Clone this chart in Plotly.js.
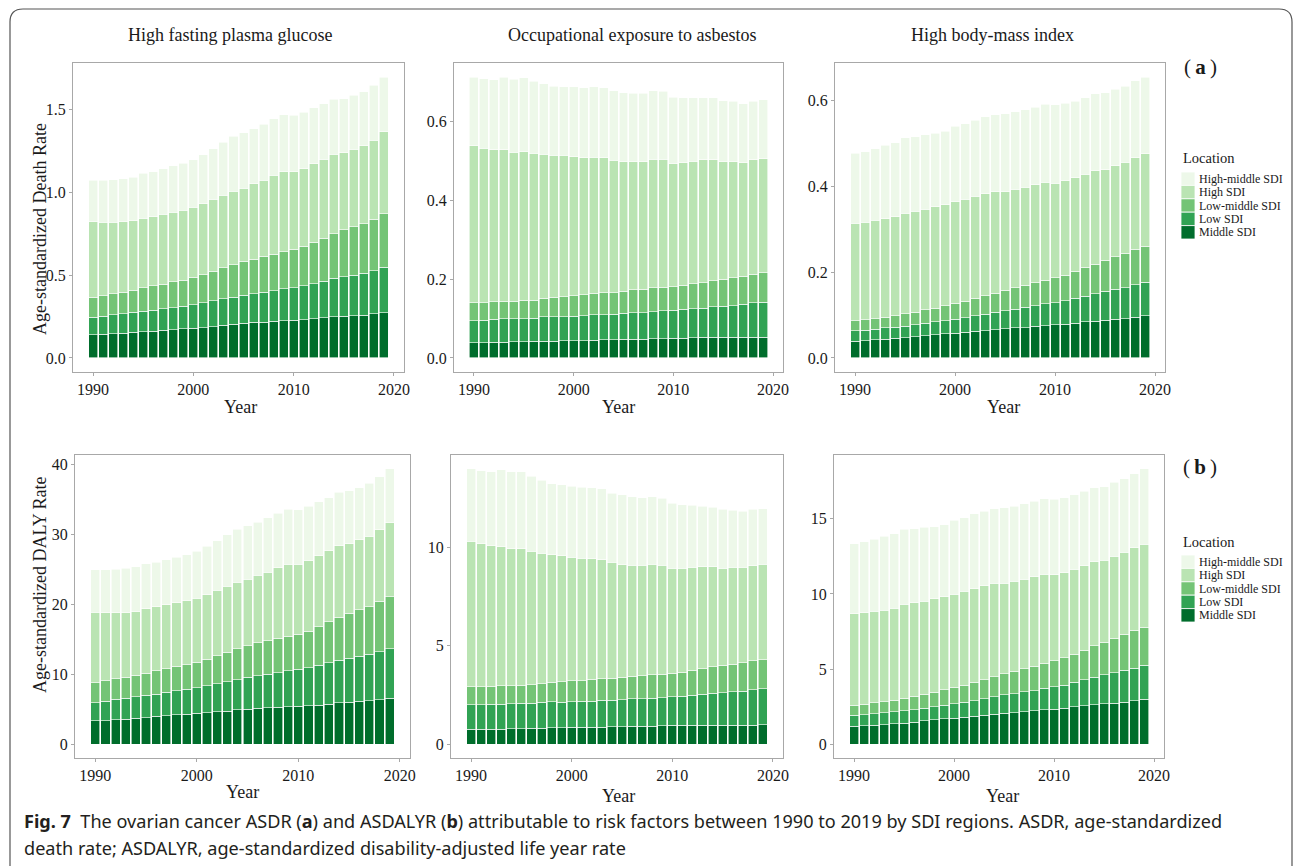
<!DOCTYPE html>
<html>
<head>
<meta charset="utf-8">
<script src="https://cdn.plot.ly/plotly-3.0.1.min.js"></script>
<style>html,body{margin:0;padding:0;background:#fff;}#chart{width:1293px;height:866px;}</style>
</head>
<body>
<div id="chart"></div>
<script>
// ---------- DATA ----------
const years = [1990,1991,1992,1993,1994,1995,1996,1997,1998,1999,2000,2001,2002,2003,2004,2005,2006,2007,2008,2009,2010,2011,2012,2013,2014,2015,2016,2017,2018,2019];
const locations = ['Middle SDI','Low SDI','Low-middle SDI','High SDI','High-middle SDI'];
const locationColors = ['#006d2c','#31a354','#74c476','#bae4b3','#edf8e9'];
const riskFactors = ['High fasting plasma glucose','Occupational exposure to asbestos','High body-mass index'];
const measureTitles = ['Age-standardized Death Rate','Age-standardized DALY Rate'];
const panelTags = ['a','b'];
const xTickVals = [1990,2000,2010,2020];

// (a) ASDR - High fasting plasma glucose
const deathGlucoseMiddle = [0.140,0.142,0.146,0.150,0.154,0.158,0.162,0.166,0.172,0.176,0.180,0.184,0.190,0.197,0.205,0.211,0.215,0.217,0.221,0.225,0.227,0.231,0.237,0.243,0.249,0.251,0.255,0.259,0.267,0.273];
const deathGlucoseLow = [0.107,0.111,0.115,0.117,0.121,0.125,0.127,0.131,0.133,0.137,0.141,0.149,0.155,0.160,0.162,0.168,0.172,0.180,0.186,0.192,0.198,0.204,0.212,0.222,0.232,0.240,0.246,0.254,0.260,0.274];
const deathGlucoseLowMiddle = [0.120,0.124,0.126,0.130,0.134,0.140,0.148,0.150,0.156,0.158,0.166,0.170,0.180,0.188,0.196,0.205,0.211,0.217,0.221,0.225,0.233,0.239,0.249,0.259,0.271,0.283,0.291,0.299,0.311,0.325];
const deathGlucoseHigh = [0.455,0.443,0.433,0.425,0.419,0.421,0.417,0.421,0.421,0.423,0.423,0.430,0.433,0.438,0.444,0.443,0.455,0.461,0.475,0.483,0.469,0.469,0.477,0.477,0.479,0.465,0.469,0.471,0.479,0.494];
const deathGlucoseHighMiddle = [0.251,0.253,0.257,0.261,0.265,0.273,0.273,0.275,0.279,0.283,0.289,0.296,0.307,0.320,0.334,0.335,0.333,0.337,0.343,0.345,0.341,0.343,0.337,0.335,0.333,0.329,0.327,0.327,0.331,0.332];

// (a) ASDR - Occupational exposure to asbestos
const deathAsbestosMiddle = [0.039,0.039,0.040,0.040,0.041,0.041,0.042,0.043,0.043,0.044,0.044,0.044,0.045,0.046,0.046,0.047,0.048,0.048,0.049,0.049,0.050,0.050,0.051,0.052,0.052,0.052,0.053,0.053,0.053,0.053];
const deathAsbestosLow = [0.056,0.057,0.058,0.059,0.058,0.059,0.059,0.061,0.061,0.061,0.062,0.063,0.065,0.064,0.065,0.066,0.067,0.067,0.068,0.071,0.071,0.073,0.074,0.074,0.078,0.079,0.080,0.083,0.087,0.089];
const deathAsbestosLowMiddle = [0.045,0.044,0.045,0.045,0.045,0.046,0.046,0.048,0.050,0.050,0.052,0.053,0.054,0.056,0.055,0.056,0.058,0.060,0.061,0.059,0.060,0.062,0.063,0.065,0.066,0.069,0.070,0.071,0.072,0.074];
const deathAsbestosHigh = [0.398,0.392,0.385,0.384,0.378,0.378,0.372,0.365,0.360,0.359,0.353,0.348,0.346,0.342,0.336,0.329,0.325,0.323,0.326,0.325,0.312,0.310,0.311,0.312,0.307,0.298,0.295,0.289,0.291,0.290];
const deathAsbestosHighMiddle = [0.175,0.177,0.178,0.184,0.186,0.187,0.183,0.179,0.176,0.175,0.177,0.178,0.178,0.178,0.176,0.175,0.174,0.174,0.174,0.173,0.169,0.166,0.162,0.158,0.157,0.155,0.153,0.149,0.148,0.149];

// (a) ASDR - High body-mass index
const deathBMIMiddle = [0.039,0.040,0.043,0.044,0.046,0.047,0.050,0.052,0.054,0.056,0.058,0.060,0.062,0.064,0.066,0.068,0.070,0.071,0.074,0.075,0.078,0.079,0.081,0.084,0.086,0.088,0.090,0.092,0.095,0.098];
const deathBMILow = [0.025,0.025,0.024,0.026,0.026,0.027,0.028,0.029,0.030,0.031,0.032,0.034,0.036,0.038,0.040,0.042,0.043,0.047,0.048,0.051,0.051,0.054,0.058,0.060,0.064,0.067,0.070,0.072,0.076,0.078];
const deathBMILowMiddle = [0.023,0.024,0.025,0.025,0.027,0.029,0.029,0.031,0.032,0.035,0.037,0.038,0.041,0.043,0.045,0.048,0.051,0.052,0.053,0.055,0.058,0.060,0.063,0.067,0.069,0.073,0.076,0.080,0.082,0.084];
const deathBMIHigh = [0.227,0.227,0.229,0.230,0.230,0.234,0.235,0.235,0.237,0.235,0.237,0.238,0.238,0.238,0.237,0.230,0.229,0.228,0.229,0.229,0.220,0.220,0.218,0.217,0.217,0.211,0.212,0.212,0.214,0.216];
const deathBMIHighMiddle = [0.163,0.165,0.167,0.171,0.173,0.176,0.174,0.173,0.171,0.172,0.176,0.176,0.177,0.179,0.179,0.182,0.181,0.181,0.181,0.182,0.183,0.181,0.179,0.179,0.180,0.179,0.178,0.178,0.179,0.179];

// (b) ASDALYR - High fasting plasma glucose
const dalyGlucoseMiddle = [3.35,3.39,3.49,3.58,3.68,3.82,3.97,4.06,4.21,4.30,4.40,4.49,4.64,4.73,4.92,5.02,5.11,5.21,5.26,5.35,5.45,5.50,5.59,5.73,5.93,6.02,6.12,6.21,6.36,6.55];
const dalyGlucoseLow = [2.58,2.77,2.91,3.02,3.11,3.16,3.20,3.35,3.44,3.54,3.68,3.87,4.01,4.21,4.30,4.54,4.69,4.78,4.97,5.12,5.25,5.44,5.69,5.93,6.07,6.26,6.45,6.65,6.83,7.07];
const dalyGlucoseLowMiddle = [2.86,2.92,2.97,3.01,3.10,3.20,3.34,3.39,3.49,3.53,3.63,3.78,4.01,4.20,4.40,4.54,4.68,4.82,4.92,4.97,5.02,5.21,5.54,5.83,6.16,6.45,6.64,6.83,7.22,7.50];
const dalyGlucoseHigh = [10.09,9.75,9.46,9.22,9.08,9.17,9.13,9.13,9.12,9.13,9.17,9.22,9.37,9.46,9.51,9.51,9.65,9.80,10.08,10.27,10.04,10.09,10.13,10.18,10.23,9.94,10.04,10.04,10.22,10.56];
const dalyGlucoseHighMiddle = [6.07,6.12,6.16,6.31,6.41,6.46,6.41,6.45,6.50,6.60,6.74,6.93,7.07,7.32,7.60,7.60,7.60,7.74,7.79,7.89,7.79,7.79,7.75,7.55,7.64,7.60,7.45,7.55,7.60,7.70];

// (b) ASDALYR - Occupational exposure to asbestos
const dalyAsbestosMiddle = [0.76,0.76,0.77,0.77,0.79,0.79,0.81,0.82,0.84,0.84,0.86,0.86,0.87,0.87,0.89,0.89,0.91,0.91,0.92,0.94,0.96,0.96,0.96,0.97,0.97,0.97,0.97,0.97,0.97,0.99];
const dalyAsbestosLow = [1.24,1.24,1.26,1.26,1.26,1.28,1.26,1.30,1.31,1.29,1.29,1.31,1.31,1.35,1.35,1.38,1.39,1.41,1.42,1.43,1.44,1.48,1.53,1.57,1.62,1.65,1.69,1.72,1.79,1.82];
const dalyAsbestosLowMiddle = [0.91,0.91,0.91,0.93,0.92,0.92,0.94,0.96,0.99,1.03,1.06,1.06,1.11,1.11,1.10,1.12,1.15,1.16,1.19,1.18,1.20,1.22,1.26,1.29,1.33,1.38,1.41,1.44,1.48,1.48];
const dalyAsbestosHigh = [7.38,7.26,7.13,7.06,6.95,6.93,6.79,6.62,6.47,6.40,6.27,6.20,6.12,6.03,5.90,5.72,5.64,5.60,5.60,5.54,5.32,5.28,5.22,5.18,5.09,4.94,4.90,4.84,4.82,4.84];
const dalyAsbestosHighMiddle = [3.69,3.71,3.76,3.90,3.91,3.91,3.80,3.69,3.62,3.60,3.61,3.60,3.60,3.60,3.50,3.56,3.46,3.44,3.44,3.40,3.30,3.21,3.15,3.07,3.01,2.98,2.90,2.85,2.86,2.82];

// (b) ASDALYR - High body-mass index
const dalyBMIMiddle = [1.20,1.22,1.26,1.31,1.35,1.40,1.46,1.55,1.62,1.68,1.73,1.79,1.86,1.93,1.99,2.06,2.11,2.17,2.22,2.28,2.33,2.39,2.48,2.57,2.64,2.68,2.73,2.81,2.88,2.99];
const dalyBMILow = [0.73,0.75,0.78,0.77,0.80,0.82,0.82,0.84,0.88,0.91,0.95,1.00,1.04,1.11,1.16,1.22,1.26,1.31,1.35,1.44,1.50,1.55,1.64,1.71,1.81,1.93,2.03,2.11,2.19,2.26];
const dalyBMILowMiddle = [0.66,0.69,0.71,0.76,0.77,0.84,0.91,0.93,0.96,1.02,1.11,1.15,1.22,1.26,1.33,1.40,1.48,1.55,1.62,1.66,1.73,1.80,1.88,1.99,2.11,2.19,2.29,2.39,2.51,2.53];
const dalyBMIHigh = [6.10,6.09,6.09,6.09,6.14,6.25,6.23,6.21,6.22,6.21,6.20,6.23,6.23,6.23,6.22,6.04,5.99,5.94,5.96,5.94,5.72,5.67,5.63,5.61,5.58,5.43,5.45,5.48,5.49,5.54];
const dalyBMIHighMiddle = [4.65,4.72,4.79,4.90,4.94,4.98,4.92,4.90,4.79,4.80,4.92,4.90,4.98,4.96,4.97,5.03,5.00,5.03,5.03,5.03,5.03,4.99,4.97,4.94,4.92,4.92,4.92,4.87,4.94,5.01];

const captionLine1 = '<b>Fig. 7</b>  The ovarian cancer ASDR (<b>a</b>) and ASDALYR (<b>b</b>) attributable to risk factors between 1990 to 2019 by SDI regions. ASDR, age-standardized';
const captionLine2 = 'death rate; ASDALYR, age-standardized disability-adjusted life year rate';

// ---------- PANEL SETUP ----------
const panelSeries = [
  [deathGlucoseMiddle, deathGlucoseLow, deathGlucoseLowMiddle, deathGlucoseHigh, deathGlucoseHighMiddle],
  [deathAsbestosMiddle, deathAsbestosLow, deathAsbestosLowMiddle, deathAsbestosHigh, deathAsbestosHighMiddle],
  [deathBMIMiddle, deathBMILow, deathBMILowMiddle, deathBMIHigh, deathBMIHighMiddle],
  [dalyGlucoseMiddle, dalyGlucoseLow, dalyGlucoseLowMiddle, dalyGlucoseHigh, dalyGlucoseHighMiddle],
  [dalyAsbestosMiddle, dalyAsbestosLow, dalyAsbestosLowMiddle, dalyAsbestosHigh, dalyAsbestosHighMiddle],
  [dalyBMIMiddle, dalyBMILow, dalyBMILowMiddle, dalyBMIHigh, dalyBMIHighMiddle]
];

const W = 1293, H = 866;
const px = v => v / W;
const py = v => 1 - v / H;

// pixel boxes of each plot panel [left, right, top, bottom]
const boxes = [
  [73, 404, 63, 372], [454, 783, 63, 372], [835, 1165, 63, 372],
  [75, 410, 455, 758], [451, 783, 455, 758], [834, 1164, 455, 758]
];
const yTicks = [
  [0, 0.5, 1.0, 1.5], [0, 0.2, 0.4, 0.6], [0, 0.2, 0.4, 0.6],
  [0, 10, 20, 30, 40], [0, 5, 10], [0, 5, 10, 15]
];
const yFormats = ['.1f', '.1f', '.1f', 'd', 'd', 'd'];

const SERIF = 'Liberation Serif, Times New Roman, serif';
const data = [];
const layout = {
  width: W, height: H,
  margin: {l: 0, r: 0, t: 0, b: 0, pad: 0},
  paper_bgcolor: '#ffffff', plot_bgcolor: '#ffffff',
  barmode: 'stack', bargap: 0.1,
  showlegend: false,
  font: {family: SERIF, color: '#1a1a1a'},
  annotations: [], shapes: []
};

panelSeries.forEach((series, p) => {
  const suffix = p === 0 ? '' : String(p + 1);
  // y range: ggplot-like 5% expansion around [0, max total]
  let maxTotal = 0;
  years.forEach((_, i) => {
    let s = 0; series.forEach(arr => { s += arr[i]; });
    if (s > maxTotal) maxTotal = s;
  });
  const pad = maxTotal * 0.05;
  series.forEach((vals, k) => {
    data.push({
      type: 'bar', x: years, y: vals, name: locations[k],
      xaxis: 'x' + suffix, yaxis: 'y' + suffix,
      marker: {color: locationColors[k], line: {color: '#ffffff', width: 0.6}},
      hoverinfo: 'x+y+name'
    });
  });
  const b = boxes[p];
  const axisCommon = {
    showline: true, mirror: true, linecolor: '#a8a8a8', linewidth: 1,
    ticks: 'outside', ticklen: 3, tickwidth: 1, tickcolor: '#a8a8a8',
    showgrid: false, zeroline: false,
    tickfont: {family: SERIF, size: 16, color: '#1a1a1a'}
  };
  layout['xaxis' + suffix] = Object.assign({}, axisCommon, {
    domain: [px(b[0]), px(b[1])], anchor: 'y' + suffix,
    range: [1988, 2021], tickvals: xTickVals, ticktext: xTickVals.map(String)
  });
  layout['yaxis' + suffix] = Object.assign({}, axisCommon, {
    domain: [py(b[3]), py(b[2])], anchor: 'x' + suffix,
    range: [-pad, maxTotal + pad], tickvals: yTicks[p], tickformat: yFormats[p]
  });
});

// ---------- TEXT ----------
const ann = layout.annotations;
function addText(text, x, y, size, opts) {
  ann.push(Object.assign({
    text: text, x: px(x), y: py(y), xref: 'paper', yref: 'paper',
    xanchor: 'center', yanchor: 'middle', showarrow: false,
    font: {family: SERIF, size: size, color: '#1a1a1a'}
  }, opts || {}));
}
// panel (risk factor) titles
[230, 632, 992].forEach((cx, i) => addText(riskFactors[i], cx, 35, 18));
// y-axis titles
addText(measureTitles[0], 40, 229, 18, {textangle: -90});
addText(measureTitles[1], 40, 585, 18, {textangle: -90});
// x-axis titles
[[240, 407], [618, 407], [1003, 407], [242, 792], [618, 796], [1002, 796]].forEach(
  ([cx, cy]) => addText('Year', cx, cy, 18));
// panel tags
addText('(\u2009<b>' + panelTags[0] + '</b>\u2009)', 1200, 67, 21);
addText('(\u2009<b>' + panelTags[1] + '</b>\u2009)', 1200, 467, 21);

// ---------- LEGENDS (one per row) ----------
const legendTops = [172, 555];
const legendTitleY = [158, 542];
const keyH = 13.4;
legendTops.forEach((top, r) => {
  addText('Location', 1181, legendTitleY[r], 14.5, {xanchor: 'left'});
  for (let j = 0; j < locations.length; j++) {
    const k = locations.length - 1 - j; // High-middle first
    const y0 = top + j * keyH, y1 = y0 + keyH;
    layout.shapes.push({
      type: 'rect', xref: 'paper', yref: 'paper',
      x0: px(1181), x1: px(1195), y0: py(y1), y1: py(y0),
      fillcolor: locationColors[k], line: {color: '#ffffff', width: 0.8}
    });
    addText(locations[k], 1197, (y0 + y1) / 2, 12, {xanchor: 'left'});
  }
});

// ---------- CAPTION ----------
const CAPFONT = 'Noto Sans, sans-serif';
addText(captionLine1, 22, 821, 18.1, {xanchor: 'left', font: {family: CAPFONT, size: 18.1, color: '#231f20'}});
addText(captionLine2, 22, 848, 18.1, {xanchor: 'left', font: {family: CAPFONT, size: 18.1, color: '#231f20'}});

// ---------- FRAME ----------
layout.shapes.push({
  type: 'path', xref: 'paper', yref: 'paper',
  path: 'M ' + px(10) + ',' + py(866) +
        ' L ' + px(10) + ',' + py(22) +
        ' Q ' + px(10) + ',' + py(9) + ' ' + px(23) + ',' + py(9) +
        ' L ' + px(1279) + ',' + py(9) +
        ' Q ' + px(1292) + ',' + py(9) + ' ' + px(1292) + ',' + py(22) +
        ' L ' + px(1292) + ',' + py(866),
  line: {color: '#555555', width: 1.2}
});

Plotly.newPlot('chart', data, layout, {displayModeBar: false, responsive: false});
</script>
</body>
</html>
